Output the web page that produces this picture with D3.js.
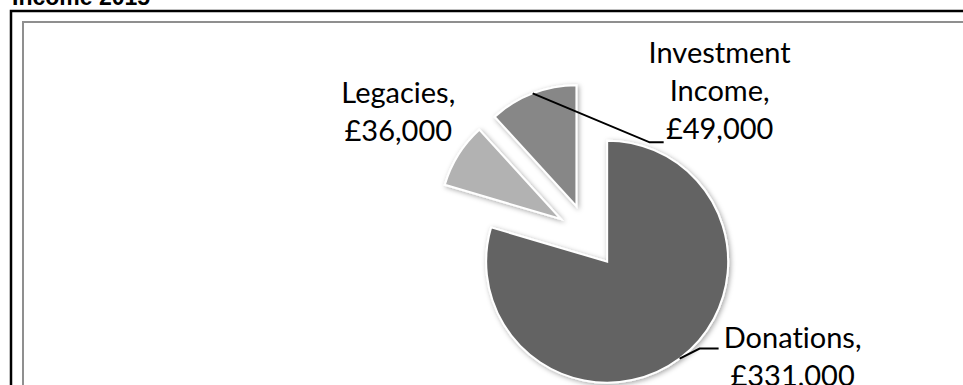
<!DOCTYPE html>
<html>
<head>
<meta charset="utf-8">
<script src="https://cdn.jsdelivr.net/npm/d3@7"></script>
<style>
  body { margin: 0; background: #fff; }
  svg { display: block; }
  .lbl { font-family: Lato, "Open Sans", sans-serif; font-size: 29px; fill: #000; font-variant-ligatures: none; font-feature-settings: "liga" 0; }
  .title { font-family: "Liberation Sans", Arial, sans-serif; font-weight: bold; font-size: 23px; }
</style>
</head>
<body>
<div id="chart"></div>
<script>
// data
const categories = ["Donations", "Legacies", "Investment Income"];
const values = [331000, 36000, 49000];
const labelLines = [["Donations,"], ["Legacies,"], ["Investment", "Income,"]];

const colors = ["#636363", "#b2b2b2", "#878787"];

const svgWidth = 963;
const svgHeight = 385;

// pie placement
const cx = 588, cy = 236;
const radius = 121;
const explode = 32;
const lineGap = 38;

// label placement, relative to the middle of each slice's outer edge
const labelLayout = [
  { dx: 113, dy: -11, leader: [[20, -10], [39, -10]] },
  { dx: -60, dy: -52, leader: null },
  { dx: 187, dy: -30, leader: [[117, 49], [131, 49]] }
];

const svg = d3.select("#chart")
  .append("svg")
  .attr("width", svgWidth)
  .attr("height", svgHeight);

// soft shadow like the office chart
const defs = svg.append("defs");
const shadow = defs.append("filter")
  .attr("id", "shadow")
  .attr("x", "-20%").attr("y", "-20%")
  .attr("width", "140%").attr("height", "140%");
shadow.append("feDropShadow")
  .attr("dx", 1.5)
  .attr("dy", 1.5)
  .attr("stdDeviation", 2.5)
  .attr("flood-color", "#000")
  .attr("flood-opacity", 0.35);

// frames
svg.append("rect")
  .attr("x", 11).attr("y", 11)
  .attr("width", svgWidth + 20).attr("height", svgHeight + 20)
  .attr("fill", "none")
  .attr("stroke", "#000")
  .attr("stroke-width", 2.5);

svg.append("rect")
  .attr("x", 23).attr("y", 22)
  .attr("width", svgWidth + 20).attr("height", svgHeight + 20)
  .attr("fill", "none")
  .attr("stroke", "#8f8f8f")
  .attr("stroke-width", 2);

// title, mostly cut off at the top
svg.append("text")
  .attr("class", "title")
  .attr("x", 12)
  .attr("y", 4.5)
  .text("Income 2015");

const pie = d3.pie()
  .sort(null)
  .startAngle(0)
  .value(d => d);

const arc = d3.arc()
  .innerRadius(0)
  .outerRadius(radius);

const slices = pie(values);

function offset(d, dist) {
  const mid = (d.startAngle + d.endAngle) / 2;
  return [dist * Math.sin(mid), -dist * Math.cos(mid)];
}

const chartGroup = svg.append("g")
  .attr("transform", `translate(${cx}, ${cy})`);

chartGroup.selectAll("path.slice")
  .data(slices)
  .enter()
  .append("path")
  .attr("class", "slice")
  .attr("transform", d => {
    const [ox, oy] = offset(d, explode);
    return `translate(${ox}, ${oy})`;
  })
  .attr("d", arc)
  .attr("fill", (d, i) => colors[i])
  .attr("stroke", "#fff")
  .attr("stroke-width", 2)
  .attr("stroke-linejoin", "miter")
  .attr("filter", "url(#shadow)");

const fmt = d3.format(",");

slices.forEach((d, i) => {
  const [ox, oy] = offset(d, explode + radius);
  const lay = labelLayout[i];

  if (lay.leader) {
    const pts = [[ox, oy]].concat(lay.leader.map(p => [ox + p[0], oy + p[1]]));
    chartGroup.append("path")
      .attr("d", d3.line()(pts))
      .attr("fill", "none")
      .attr("stroke", "#000")
      .attr("stroke-width", 2);
  }

  const lines = labelLines[i].concat(["£" + fmt(values[i])]);
  const text = chartGroup.append("text")
    .attr("class", "lbl")
    .attr("text-anchor", "middle");
  lines.forEach((t, j) => {
    text.append("tspan")
      .attr("x", ox + lay.dx)
      .attr("y", oy + lay.dy + j * lineGap)
      .text(t);
  });
});
</script>
</body>
</html>
